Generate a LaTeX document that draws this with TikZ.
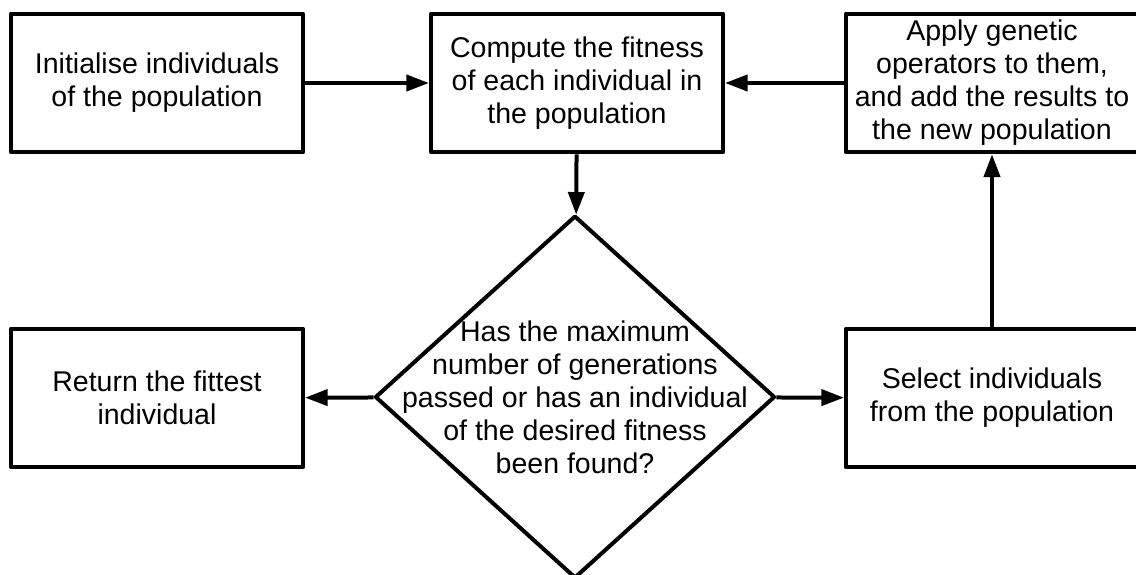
\documentclass[tikz,border=0pt]{standalone}
\usepackage{fontspec}
\setmainfont{Liberation Sans}
\usetikzlibrary{shapes.geometric,arrows.meta}

\begin{document}
\begin{tikzpicture}
[x=.75pt,y=-.75pt,
 box/.style={draw,line width=3pt,line join=round,minimum width=219pt,minimum height=104pt,inner sep=0pt,align=center,font=\fontsize{21.4}{24.75}\selectfont},
 test/.style={draw,diamond,line width=3pt,line join=round,aspect=1.1,minimum width=300pt,minimum height=272pt,inner sep=-100pt,align=center,font=\fontsize{21.4}{24.75}\selectfont},
 flow/.style={line width=3pt,-{Triangle[length=17pt,width=12pt]}}]
\useasboundingbox (0,0) rectangle (1136,575);

\node[box] (s1) at (157,83) {Initialise individuals\\of the population};
\node[box] (s2) at (577,83) {Compute the fitness\\of each individual in\\the population};
\node[box] (s3) at (992,83) {Apply genetic\\operators to them,\\and add the results to\\the new population};

\node[test] (s4) at (575,397) {Has the maximum\\number of generations\\passed or has an individual\\of the desired fitness\\been found?};
\node[box] (s5) at (157,398) {Return the fittest\\individual};
\node[box] (s6) at (992,398) {Select individuals\\from the population};

\foreach \from/\to in {s1/s2,s3/s2,s2/s4,s4/s5,s4/s6,s6/s3}
\draw[flow] (\from) -- (\to);
\end{tikzpicture}
\end{document}
